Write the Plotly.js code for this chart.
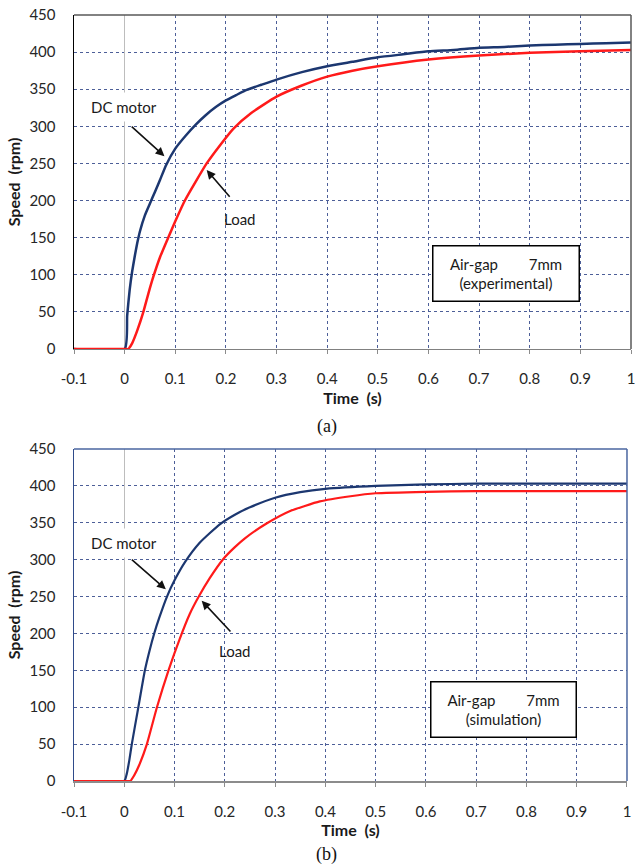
<!DOCTYPE html>
<html><head><meta charset="utf-8">
<script src="https://cdn.plot.ly/plotly-3.0.1.min.js"></script>
<style>body{margin:0;background:#fff}#chart{width:635px;height:868px}</style>
</head><body><div id="chart"></div>
<script>
// (a) experimental
const expMotorTime = [-0.1, 0, 0.005, 0.01, 0.015, 0.02, 0.025, 0.03, 0.04, 0.05, 0.06, 0.07, 0.082, 0.1, 0.12, 0.14, 0.16, 0.18, 0.2, 0.22, 0.241, 0.27, 0.3, 0.35, 0.4, 0.45, 0.5, 0.55, 0.6, 0.65, 0.7, 0.75, 0.8, 0.85, 0.9, 0.95, 1.0];
const expMotorSpeed = [0, 0, 45, 80, 105, 125, 143, 158, 180, 196, 212, 228, 248, 270, 287, 302, 315, 326, 335, 342, 349, 356, 363, 373, 381, 387, 393, 397, 401, 403, 406, 407, 409, 410, 411, 412, 413];
const expLoadTime = [-0.1, 0, 0.007, 0.015, 0.025, 0.037, 0.047, 0.057, 0.07, 0.086, 0.1, 0.119, 0.162, 0.19, 0.215, 0.25, 0.3, 0.35, 0.4, 0.45, 0.5, 0.6, 0.7, 0.8, 0.9, 1.0];
const expLoadSpeed = [0, 0, 0, 8, 25, 50, 75, 98, 124, 150, 172, 200, 250, 276, 297, 318, 340, 355, 367, 375, 381, 390, 395.5, 399, 401, 403];
// (b) simulation
const simMotorTime = [-0.1, 0, 0.005, 0.01, 0.015, 0.028, 0.041, 0.05, 0.06, 0.07, 0.085, 0.1, 0.122, 0.15, 0.19, 0.22, 0.25, 0.3, 0.35, 0.4, 0.5, 0.6, 0.7, 0.8, 0.9, 1.0];
const simMotorSpeed = [0, 0, 10, 28, 50, 100, 150, 176, 201, 222, 250, 272, 298, 323, 348, 361, 371, 384, 391.5, 396, 400, 402, 403, 403, 403, 403];
const simLoadTime = [-0.1, 0, 0.012, 0.02, 0.03, 0.045, 0.065, 0.088, 0.11, 0.13, 0.149, 0.17, 0.197, 0.22, 0.24, 0.283, 0.33, 0.389, 0.45, 0.5, 0.6, 0.7, 0.8, 0.9, 1.0];
const simLoadSpeed = [0, 0, 0, 8, 22, 50, 100, 150, 192, 226, 251, 275, 301, 317, 329, 349, 366, 379, 386, 390, 392, 393, 393, 393, 393];

const xTickVals = [-0.1, 0, 0.1, 0.2, 0.3, 0.4, 0.5, 0.6, 0.7, 0.8, 0.9, 1];
const xTickText = ['-0.1', '0', '0.1', '0.2', '0.3', '0.4', '0.5', '0.6', '0.7', '0.8', '0.9', '1'];
const yTickVals = [0, 50, 100, 150, 200, 250, 300, 350, 400, 450];

const NAVY = '#1c3770', RED = '#ff1a1a';
const tickFont = {family: 'Lato', size: 15, color: '#262626'};
const titleFont = {family: 'Lato', size: 16, color: '#1a1a1a'};
const gridCol = '#4d5f98';

function xAxis(lineCol, anchor) {
  return {
    range: [-0.1, 1], tickvals: xTickVals, ticktext: xTickText, tickfont: tickFont,
    ticklabeloverflow: 'allow',
    showgrid: true, gridcolor: gridCol, griddash: 'dot', gridwidth: 1,
    zeroline: true, zerolinecolor: '#bdbdbd', zerolinewidth: 1.5,
    showline: true, linecolor: lineCol, linewidth: 1.5,
    ticks: 'outside', ticklen: 4, tickcolor: '#8c8c8c', ticklabelstandoff: 12,
    title: {text: '<b>Time  (s)</b>', font: titleFont, standoff: 6},
    anchor: anchor, fixedrange: true
  };
}
function yAxis(lineCol, dom, anchor) {
  return {
    range: [0, 450], tickvals: yTickVals, tickfont: tickFont, domain: dom,
    showgrid: true, gridcolor: gridCol, griddash: 'dot', gridwidth: 1,
    zeroline: false, showline: true, linecolor: lineCol, linewidth: 1.5,
    ticks: '', ticklabelstandoff: 14,
    title: {text: '<b>Speed  (rpm)</b>', font: titleFont, standoff: 5},
    anchor: anchor, fixedrange: true
  };
}

const lineStyle = (c, w) => ({color: c, width: w, shape: 'spline', smoothing: 0.5});
const traces = [
  {x: expMotorTime, y: expMotorSpeed, xaxis: 'x', yaxis: 'y', mode: 'lines', line: lineStyle(NAVY, 2.5), name: 'DC motor'},
  {x: expLoadTime, y: expLoadSpeed, xaxis: 'x', yaxis: 'y', mode: 'lines', line: lineStyle(RED, 2.5), name: 'Load'},
  {x: simMotorTime, y: simMotorSpeed, xaxis: 'x2', yaxis: 'y2', mode: 'lines', line: lineStyle(NAVY, 2.2), name: 'DC motor'},
  {x: simLoadTime, y: simLoadSpeed, xaxis: 'x2', yaxis: 'y2', mode: 'lines', line: lineStyle(RED, 2.2), name: 'Load'}
];

const xa = xAxis('#808080', 'y'); xa.domain = [0, 1];
const xb = xAxis('#8c8c8c', 'y2'); xb.domain = [0, 0.9928];
const ya = yAxis('#000000', [0.564, 1], 'x');
const yb = yAxis('#2f4b8a', [0, 0.4334], 'x2');

const lblFont = {family: 'Lato', size: 15, color: '#1a1a1a'};
function arrow(xr, yr, hx, hy, tx, ty) {
  return {xref: xr, yref: yr, axref: xr, ayref: yr, x: hx, y: hy, ax: tx, ay: ty, text: '',
    showarrow: true, arrowhead: 2, arrowsize: 1.1, arrowwidth: 1.6, arrowcolor: '#111'};
}
const annotations = [
  {xref: 'x', yref: 'y', x: -0.001, y: 325.7, text: 'DC motor', showarrow: false, font: lblFont, bgcolor: '#fff', borderpad: 5},
  arrow('x', 'y', 0.0786, 259.8, 0.011, 301.5),
  {xref: 'x', yref: 'y', x: 0.228, y: 175, text: 'Load', showarrow: false, font: lblFont},
  arrow('x', 'y', 0.162, 241, 0.21, 203),
  {xref: 'x', yref: 'y', x: 0.753, y: 101.6, text: 'Air-gap\u00a0\u00a0\u00a0\u00a0\u00a0\u00a0\u00a0\u00a07mm<br>(experimental)', showarrow: false,
   font: lblFont, bgcolor: '#fff', bordercolor: '#000', borderwidth: 1.5, width: 143, height: 52},
  {xref: 'x2', yref: 'y2', x: -0.001, y: 322.6, text: 'DC motor', showarrow: false, font: lblFont, bgcolor: '#fff', borderpad: 5},
  arrow('x2', 'y2', 0.0827, 259.8, 0.012, 301.8),
  {xref: 'x2', yref: 'y2', x: 0.22, y: 176, text: 'Load', showarrow: false, font: lblFont},
  arrow('x2', 'y2', 0.154, 244.4, 0.214, 200.6),
  {xref: 'x2', yref: 'y2', x: 0.7536, y: 96.9, text: 'Air-gap\u00a0\u00a0\u00a0\u00a0\u00a0\u00a0\u00a0\u00a07mm<br>(simulation)', showarrow: false,
   font: lblFont, bgcolor: '#fff', bordercolor: '#000', borderwidth: 1.5, width: 142, height: 52},
  {xref: 'paper', yref: 'paper', x: 0.454, y: 0.4623, xanchor: 'center', yanchor: 'middle', text: '(a)', showarrow: false, font: {family: 'Liberation Serif', size: 18, color: '#111'}},
  {xref: 'paper', yref: 'paper', x: 0.454, y: -0.0966, xanchor: 'center', yanchor: 'middle', text: '(b)', showarrow: false, font: {family: 'Liberation Serif', size: 18, color: '#111'}}
];

const shapes = [
  {type: 'line', xref: 'x domain', yref: 'y domain', x0: 0, x1: 1, y0: 1, y1: 1, line: {color: '#595959', width: 1.5}},
  {type: 'line', xref: 'x domain', yref: 'y domain', x0: 1, x1: 1, y0: 0, y1: 1, line: {color: '#595959', width: 1.5}},
  {type: 'line', xref: 'x2 domain', yref: 'y2 domain', x0: 0, x1: 1, y0: 1, y1: 1, line: {color: '#4a66a0', width: 1.5}},
  {type: 'line', xref: 'x2 domain', yref: 'y2 domain', x0: 1, x1: 1, y0: 0, y1: 1, line: {color: '#4a66a0', width: 1.5}}
];

const layout = {
  width: 635, height: 868, margin: {l: 74, r: 4, t: 15, b: 87},
  paper_bgcolor: '#fff', plot_bgcolor: '#fff', showlegend: false,
  xaxis: xa, yaxis: ya, xaxis2: xb, yaxis2: yb,
  annotations: annotations, shapes: shapes
};
Plotly.newPlot('chart', traces, layout, {displayModeBar: false, staticPlot: true});
</script></body></html>
